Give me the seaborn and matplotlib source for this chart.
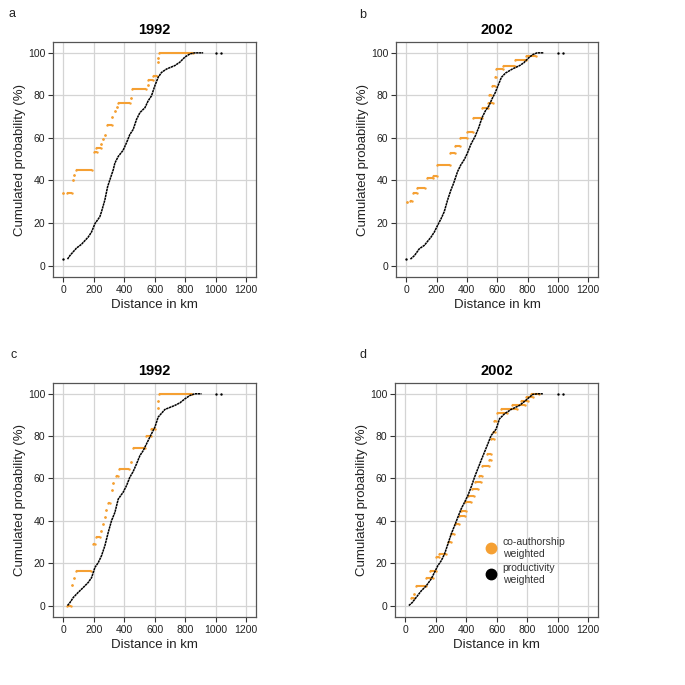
import matplotlib
matplotlib.use("Agg")
import matplotlib.pyplot as plt
from matplotlib.lines import Line2D
import seaborn as sns
import pandas as pd

# cumulative distance distributions (km, %)
ORANGE = "#F5A033"

# panel a (1992, top)
a_black_x = [28, 44, 87, 120, 164, 186, 208, 240, 251, 273, 291, 306, 328, 339, 361, 393, 415, 437,
             459, 481, 503, 536, 557, 579, 601, 623, 645, 678, 732, 765, 798, 831, 863, 918]
a_black_y = [3, 4.7, 8.2, 10, 13.4, 15.8, 19.7, 22.9, 25.3, 30.8, 37, 40.3, 45, 48.2, 51.3, 54.2, 57.7, 61.6,
             64, 68.7, 71.9, 74.2, 77.4, 79.8, 84.5, 88.5, 90.8, 92.4, 94, 95.6, 98, 99.5, 100, 100]
a_black_iso_x = [0, 1002, 1033]
a_black_iso_y = [3, 100, 100]
a_or_x0 = [0, 25, 66, 72, 81, 201, 212, 251, 262, 273, 284, 317, 339, 350, 361, 444, 454, 553, 557, 590, 623, 623, 630]
a_or_x1 = [0, 55, 66, 72, 190, 219, 247, 251, 262, 273, 317, 317, 339, 350, 437, 444, 546, 553, 586, 612, 623, 623, 852]
a_or_y = [34.3, 34.3, 40.3, 42.7, 44.7, 53.2, 55.3, 57.3, 59.6, 61.6, 65.9, 70, 72.7, 74.6, 76.6, 78.7, 82.9, 85,
          87.4, 89.3, 95.9, 97.5, 100]

# panel b (2002, top)
b_black_x = [28, 55, 87, 120, 164, 186, 208, 230, 251, 273, 295, 313, 328, 339, 361, 383, 404, 426, 455, 478,
             500, 522, 545, 565, 588, 605, 628, 655, 700, 748, 775, 805, 835, 863, 907]
b_black_y = [3, 4.7, 7.9, 9.5, 13.4, 15.8, 19, 22, 25.3, 30.8, 35.5, 38.7, 41.9, 44.2, 47.4, 49.8, 52.9, 56.9,
             60.8, 64.8, 69.5, 72.7, 75, 78.2, 81.4, 84.5, 88.5, 90.5, 92.4, 94, 95.3, 97.5, 99.2, 100, 100]
b_black_iso_x = [0, 1002, 1033]
b_black_iso_y = [3, 100, 100]
b_or_x0 = [5, 22, 48, 70, 136, 175, 201, 289, 322, 355, 400, 443, 497, 541, 548, 563, 585, 595, 639, 716, 792]
b_or_x1 = [5, 37, 70, 125, 175, 201, 289, 322, 355, 400, 443, 497, 541, 573, 556, 585, 595, 639, 716, 792, 857]
b_or_y = [30, 30.5, 34, 36.3, 41, 41.9, 47.4, 53, 56, 60, 63, 69.5, 74, 76.6, 80, 84.5, 88.5, 92.4, 94, 96.4, 98.5]

# panel c (1992, bottom)
c_black_x = [28, 44, 66, 98, 131, 164, 186, 208, 230, 251, 273, 295, 317, 339, 361, 393, 415, 437, 459, 481,
             503, 525, 557, 579, 601, 623, 667, 732, 765, 798, 831, 863, 907]
c_black_y = [0, 1.4, 3.8, 6.2, 8.5, 10.9, 13.2, 18, 20.3, 23.5, 28.2, 34.5, 40.1, 44, 50.3, 53.5, 56.6, 60.6,
             63.3, 66.9, 70.8, 73.2, 77.9, 81.1, 84.2, 89, 92.6, 94.5, 95.7, 97.6, 99.2, 100, 100]
c_black_iso_x = [1002, 1033]
c_black_iso_y = [100, 100]
c_or_x0 = [28, 59, 72, 81, 197, 212, 251, 262, 273, 280, 291, 317, 328, 343, 365, 444, 455, 546, 579, 623, 623, 630]
c_or_x1 = [50, 59, 72, 181, 208, 240, 251, 262, 273, 280, 306, 317, 328, 361, 431, 444, 536, 579, 601, 623, 623, 846]
c_or_y = [0, 9.6, 12.8, 16.1, 28.9, 32.2, 35.3, 38.5, 42, 45.1, 48.3, 54.7, 57.7, 61.4, 64.5, 67.7, 74.3, 80.3,
          83.6, 93.2, 96.7, 100]

# panel d (2002, bottom)
d_black_x = [24, 46, 72, 105, 138, 170, 192, 214, 236, 258, 280, 302, 324, 345, 367, 389, 411, 433, 455, 476,
             498, 520, 542, 564, 597, 619, 651, 695, 750, 783, 815, 837, 870, 903]
d_black_y = [0, 1.4, 3.8, 6.9, 9.3, 12.5, 15.6, 18.8, 21.1, 24.3, 29, 33.8, 37.7, 41.6, 45.6, 48.7, 51.9, 56,
             60.6, 64.5, 68.5, 72.4, 76.3, 80.3, 83.4, 88.2, 90.5, 92.6, 94.5, 96.4, 98.4, 99.7, 100, 100]
d_black_iso_x = [1002, 1033]
d_black_iso_y = [100, 100]
d_or_x0 = [39, 60, 72, 138, 160, 203, 225, 280, 302, 330, 355, 367, 392, 415, 440, 460, 486, 506, 540, 551, 566,
           575, 582, 600, 630, 700, 761, 793, 826]
d_or_x1 = [61, 60, 138, 181, 199, 225, 269, 302, 323, 352, 390, 400, 430, 450, 480, 500, 506, 551, 560, 565, 580,
           590, 598, 665, 735, 783, 805, 837, 881]
d_or_y = [3.5, 5.4, 9.3, 12.8, 16.5, 22.7, 24.3, 30, 34, 38.5, 42.4, 44.8, 48.7, 51.9, 55, 58.2, 61.4, 66,
          71.5, 68.5, 78.5, 81.9, 87, 91, 93, 94.5, 96.4, 98.4, 100]

panels = [
    ("a", "1992", a_black_x, a_black_y, a_black_iso_x, a_black_iso_y, a_or_x0, a_or_x1, a_or_y),
    ("b", "2002", b_black_x, b_black_y, b_black_iso_x, b_black_iso_y, b_or_x0, b_or_x1, b_or_y),
    ("c", "1992", c_black_x, c_black_y, c_black_iso_x, c_black_iso_y, c_or_x0, c_or_x1, c_or_y),
    ("d", "2002", d_black_x, d_black_y, d_black_iso_x, d_black_iso_y, d_or_x0, d_or_x1, d_or_y),
]

sns.set_theme(style="whitegrid")
plt.rcParams["font.family"] = ["Liberation Sans", "DejaVu Sans"]

fig = plt.figure(figsize=(6.85, 6.85), dpi=100)
rects = {
    "a": [0.0774, 0.5956, 0.2964, 0.3431],
    "b": [0.5781, 0.5956, 0.2950, 0.3431],
    "c": [0.0774, 0.0993, 0.2964, 0.3416],
    "d": [0.5766, 0.0993, 0.2964, 0.3416],
}
letter_pos = {"a": (0.0175, 0.979), "b": (0.530, 0.978), "c": (0.020, 0.482), "d": (0.530, 0.482)}

for letter, year, bx, by, ix, iy, ox0, ox1, oy in panels:
    ax = fig.add_axes(rects[letter])
    # orange: co-authorship weighted (step runs)
    ax.hlines(oy, ox0, ox1, color=ORANGE, lw=1.5, zorder=3)
    seg = pd.DataFrame({"x": ox0 + ox1, "y": oy + oy})
    sns.scatterplot(data=seg, x="x", y="y", ax=ax, color=ORANGE, s=3, linewidth=0, zorder=3)
    # black: productivity weighted
    cur = pd.DataFrame({"x": bx, "y": by})
    sns.lineplot(data=cur, x="x", y="y", ax=ax, sort=False, estimator=None, color="black",
                 lw=1.1, linestyle=(0, (1.6, 0.35)), zorder=4)
    iso = pd.DataFrame({"x": ix, "y": iy})
    sns.scatterplot(data=iso, x="x", y="y", ax=ax, color="black", s=3, linewidth=0, zorder=4)

    ax.set_xlim(-67, 1265)
    ax.set_ylim(-5.4, 105.1)
    ax.set_xticks(range(0, 1201, 200))
    ax.set_yticks(range(0, 101, 20))
    ax.grid(True, color="#d4d4d4", lw=0.9)
    for sp in ax.spines.values():
        sp.set_color("#555555")
        sp.set_linewidth(0.9)
    ax.tick_params(axis="both", direction="out", length=3.5, width=0.8, color="#333333",
                   labelsize=7.5, labelcolor="#222222", pad=2, bottom=True, left=True)
    ax.set_title(year, fontsize=10.5, fontweight="bold", pad=6, color="black")
    ax.set_xlabel("Distance in km", fontsize=9.5, color="#222222")
    ax.set_ylabel("Cumulated probability (%)", fontsize=9.5, color="#222222")
    ax.xaxis.set_label_coords(0.5, -0.095)
    ax.yaxis.set_label_coords(-0.135, 0.5)
    fig.text(*letter_pos[letter], letter, fontsize=9, ha="center", va="center", color="#222222")

    if letter == "d":
        handles = [Line2D([], [], marker="o", ls="", color=ORANGE, markersize=7.5),
                   Line2D([], [], marker="o", ls="", color="black", markersize=7.5)]
        ax.legend(handles, ["co-authorship\nweighted", "productivity\nweighted"],
                  loc="upper left", bbox_to_anchor=(0.40, 0.36), frameon=False,
                  fontsize=7.5, handletextpad=0.15, labelspacing=0.45, borderaxespad=0,
                  labelcolor="#333333")

fig.savefig("out.png", dpi=100)
